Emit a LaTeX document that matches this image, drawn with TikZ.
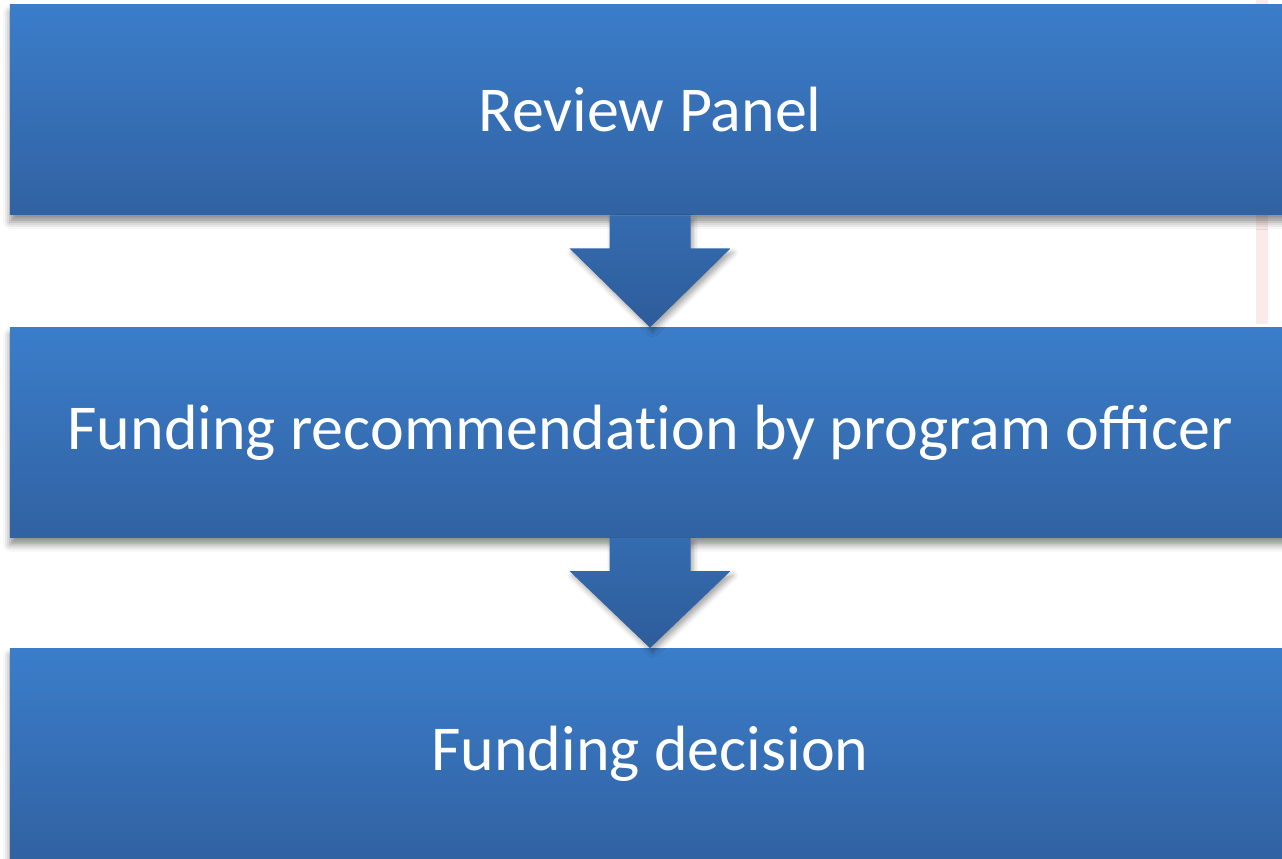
\documentclass[tikz,border=0pt]{standalone}
\usepackage{fontspec}
\setmainfont{Carlito}
\usetikzlibrary{positioning, calc, shadows, shadows.blur}

\definecolor{boxtop}{RGB}{59,125,202}
\definecolor{boxbottom}{RGB}{49,98,162}
\definecolor{arrowtop}{RGB}{52,108,176}
\definecolor{arrowbottom}{RGB}{46,92,154}
\definecolor{stripe}{RGB}{246,222,220}

\begin{document}
\begin{tikzpicture}[
step_box/.style={rectangle, minimum width=25.6cm, minimum height=4.2cm,
  top color=boxtop, bottom color=boxbottom, draw=none, text=white,
  font=\fontsize{36.4}{44}\selectfont,
  blur shadow={shadow xshift=0pt, shadow yshift=-4pt, shadow blur radius=4pt, shadow opacity=45}},
down_arrow/.style={top color=arrowtop, bottom color=arrowbottom, draw=none,
  blur shadow={shadow xshift=1.5pt, shadow yshift=-2.5pt, shadow blur radius=3pt, shadow opacity=35}}
]
\useasboundingbox (0,0) rectangle (25.64,17.18);
\clip (0,0) rectangle (25.64,17.18);

% faint strip at the right edge
    \fill[stripe, opacity=0.6] (25.12,10.7) rectangle (25.36,17.18);

% Draw steps
    \node[step_box] (panel) at (13.0,14.98) {Review Panel};
    \node[step_box, below=2.24cm of panel] (recommend) {Funding recommendat\kern0pt ion by program officer};
    \node[step_box, below=2.2cm of recommend] (decision) {Funding decision};

% Draw arrows between steps
    \foreach \a/\b in {panel/recommend, recommend/decision}{
    \path[down_arrow] ($(\a.south)+(-0.81,0)$) -- ($(\a.south)+(0.81,0)$)
        -- ($(\a.south)+(0.81,-0.66)$) -- ($(\a.south)+(1.61,-0.66)$)
        -- (\b.north) -- ($(\a.south)+(-1.61,-0.66)$)
        -- ($(\a.south)+(-0.81,-0.66)$) -- cycle;
    }
\end{tikzpicture}
\end{document}
